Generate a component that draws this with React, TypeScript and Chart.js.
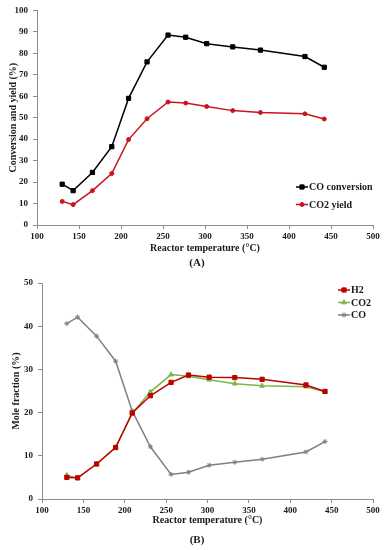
import React, { useEffect, useRef } from "react";
import { Chart, registerables } from "chart.js";

Chart.register(...registerables);

// ---- data ----
const temperatures = [130, 143, 166, 189, 209, 231, 256, 277, 302, 333, 366, 419, 442];
const coConversion = [19, 16, 24.5, 36.5, 59, 76, 88.5, 87.5, 84.5, 83, 81.5, 78.5, 73.5];
const co2Yield = [11, 9.5, 16, 24, 39.8, 49.5, 57.3, 56.8, 55.2, 53.3, 52.4, 51.8, 49.4];
const h2Fraction = [5.0, 4.9, 8.1, 11.9, 19.9, 23.9, 27.0, 28.7, 28.2, 28.1, 27.7, 26.4, 24.9];
const co2Fraction = [5.5, 4.8, 8.1, 12.0, 19.8, 24.8, 28.8, 28.4, 27.6, 26.7, 26.2, 26.0, 24.8];
const coFraction = [40.6, 42.1, 37.7, 31.9, 20.4, 12.1, 5.7, 6.2, 7.8, 8.5, 9.2, 10.9, 13.3];
const xTickValues = [100, 150, 200, 250, 300, 350, 400, 450, 500];
const yTicksA = [0, 10, 20, 30, 40, 50, 60, 70, 80, 90, 100];
const yTicksB = [0, 10, 20, 30, 40, 50];
const seriesLabelsA = ["CO conversion", "CO2 yield"];
const seriesLabelsB = ["H2", "CO2", "CO"];
const xTitle = "Reactor temperature (°C)";
const yTitleA = "Conversion and yield (%)";
const yTitleB = "Mole fraction (%)";

const SERIF = "'Liberation Serif', 'Times New Roman', serif";
const AXIS_GRAY = "#8c8c8c";
const TEXT = "#1a1a1a";

function drawPoint(ctx: CanvasRenderingContext2D, style: string, r: number, x: number, y: number) {
  ctx.beginPath();
  if (style === "rect") {
    const s = Math.SQRT1_2 * r;
    ctx.rect(x - s, y - s, 2 * s, 2 * s);
    ctx.fill();
    ctx.stroke();
  } else if (style === "circle") {
    ctx.arc(x, y, r, 0, Math.PI * 2);
    ctx.fill();
    ctx.stroke();
  } else if (style === "triangle") {
    ctx.moveTo(x, y - r);
    ctx.lineTo(x + r * 0.87, y + r / 2);
    ctx.lineTo(x - r * 0.87, y + r / 2);
    ctx.closePath();
    ctx.fill();
    ctx.stroke();
  } else if (style === "star") {
    for (let k = 0; k < 4; k++) {
      const a = (k * Math.PI) / 4;
      ctx.moveTo(x - Math.cos(a) * r, y - Math.sin(a) * r);
      ctx.lineTo(x + Math.cos(a) * r, y + Math.sin(a) * r);
    }
    ctx.stroke();
  }
}

const inlineLegend = {
  id: "inlineLegend",
  afterDatasetsDraw(chart: any) {
    const opts = chart.options.plugins.inlineLegend;
    if (!opts) return;
    const ctx = chart.ctx;
    ctx.save();
    chart.data.datasets.forEach((ds: any, i: number) => {
      const y = opts.y + i * opts.rowH;
      const x0 = opts.x;
      const x1 = opts.x + opts.lineW;
      ctx.strokeStyle = ds.borderColor;
      ctx.lineWidth = 1.5;
      ctx.beginPath();
      ctx.moveTo(x0, y);
      ctx.lineTo(x1, y);
      ctx.stroke();
      ctx.fillStyle = ds.pointBackgroundColor;
      ctx.strokeStyle = ds.pointBorderColor;
      ctx.lineWidth = ds.pointBorderWidth;
      drawPoint(ctx, ds.pointStyle, ds.pointRadius, (x0 + x1) / 2, y);
      ctx.fillStyle = TEXT;
      ctx.font = `bold ${opts.fontSize}px ${SERIF}`;
      ctx.textBaseline = "middle";
      ctx.textAlign = "left";
      ctx.fillText(ds.label, x1 + 1, y + 0.5);
    });
    ctx.restore();
  },
};

function series(label: string, data: number[], color: string, style: string, radius: number) {
  return {
    label,
    data: temperatures.map((t, i) => ({ x: t, y: data[i] })),
    borderColor: color,
    backgroundColor: color,
    pointBackgroundColor: color,
    pointBorderColor: color,
    pointBorderWidth: 1,
    pointStyle: style,
    pointRadius: radius,
    borderWidth: 1.5,
    tension: 0,
  };
}

function makeOptions(p: {
  yMax: number;
  yTicks: number[];
  yTitle: string;
  yWidth: number;
  yTitlePad: number;
  xHeight: number;
  xTitlePadBottom: number;
  padTop: number;
  padRight: number;
  legend: any;
}) {
  const tickFont = { family: SERIF, size: 9, weight: "bold" as const };
  const titleFont = { family: SERIF, size: 10, weight: "bold" as const };
  return {
    responsive: false,
    animation: false,
    events: [],
    layout: { padding: { left: 0, right: p.padRight, top: p.padTop, bottom: 0 } },
    plugins: {
      legend: { display: false },
      tooltip: { enabled: false },
      inlineLegend: p.legend,
    },
    scales: {
      x: {
        type: "linear",
        min: 100,
        max: 500,
        afterBuildTicks: (s: any) => {
          s.ticks = xTickValues.map((v) => ({ value: v }));
        },
        ticks: { font: tickFont, color: TEXT, padding: 2, maxRotation: 0, autoSkip: false },
        grid: { drawOnChartArea: false, drawTicks: true, tickLength: 4, color: AXIS_GRAY },
        border: { display: true, color: AXIS_GRAY, width: 1 },
        title: {
          display: true,
          text: xTitle,
          font: titleFont,
          color: TEXT,
          padding: { top: 0, bottom: p.xTitlePadBottom },
        },
        afterFit: (s: any) => {
          s.height = p.xHeight;
        },
      },
      y: {
        type: "linear",
        min: 0,
        max: p.yMax,
        afterBuildTicks: (s: any) => {
          s.ticks = p.yTicks.map((v) => ({ value: v }));
        },
        ticks: { font: tickFont, color: TEXT, padding: 5 },
        grid: { drawOnChartArea: false, drawTicks: true, tickLength: 4, color: AXIS_GRAY },
        border: { display: true, color: AXIS_GRAY, width: 1 },
        title: {
          display: true,
          text: p.yTitle,
          font: titleFont,
          color: TEXT,
          padding: { top: p.yTitlePad, bottom: 0 },
        },
        afterFit: (s: any) => {
          s.width = p.yWidth;
        },
      },
    },
  };
}

export default function App() {
  const refA = useRef<HTMLCanvasElement>(null);
  const refB = useRef<HTMLCanvasElement>(null);

  useEffect(() => {
    const chartA = new Chart(refA.current as HTMLCanvasElement, {
      type: "line",
      data: {
        datasets: [
          series(seriesLabelsA[0], coConversion, "#000000", "rect", 3),
          series(seriesLabelsA[1], co2Yield, "#c8141e", "circle", 2),
        ] as any,
      },
      options: makeOptions({
        yMax: 100,
        yTicks: yTicksA,
        yTitle: yTitleA,
        yWidth: 37,
        yTitlePad: 7,
        xHeight: 47,
        xTitlePadBottom: 18,
        padTop: 10,
        padRight: 17,
        legend: { x: 296, y: 187, rowH: 17.5, lineW: 12, fontSize: 10 },
      }) as any,
      plugins: [inlineLegend],
    });

    const chartB = new Chart(refB.current as HTMLCanvasElement, {
      type: "line",
      data: {
        datasets: [
          series(seriesLabelsB[0], h2Fraction, "#c00000", "rect", 3),
          series(seriesLabelsB[1], co2Fraction, "#7ab648", "triangle", 2.7),
          series(seriesLabelsB[2], coFraction, "#808080", "star", 2.5),
        ] as any,
      },
      options: makeOptions({
        yMax: 50,
        yTicks: yTicksB,
        yTitle: yTitleB,
        yWidth: 42,
        yTitlePad: 10,
        xHeight: 51,
        xTitlePadBottom: 24,
        padTop: 11,
        padRight: 17,
        legend: { x: 338, y: 18, rowH: 12.5, lineW: 12, fontSize: 10 },
      }) as any,
      plugins: [inlineLegend],
    });

    return () => {
      chartA.destroy();
      chartB.destroy();
    };
  }, []);

  const capStyle: React.CSSProperties = {
    position: "absolute",
    left: 0,
    width: 394,
    textAlign: "center",
    fontFamily: SERIF,
    fontWeight: "bold",
    fontSize: 11,
    color: TEXT,
    lineHeight: "12px",
  };

  return (
    <div style={{ position: "fixed", left: 0, top: 0, width: 390, height: 550, background: "#fff" }}>
      <canvas ref={refA} width={390} height={272} style={{ position: "absolute", left: 0, top: 0 }} />
      <div style={{ ...capStyle, top: 256 }}>(A)</div>
      <canvas ref={refB} width={390} height={278} style={{ position: "absolute", left: 0, top: 272 }} />
      <div style={{ ...capStyle, top: 533 }}>(B)</div>
    </div>
  );
}
